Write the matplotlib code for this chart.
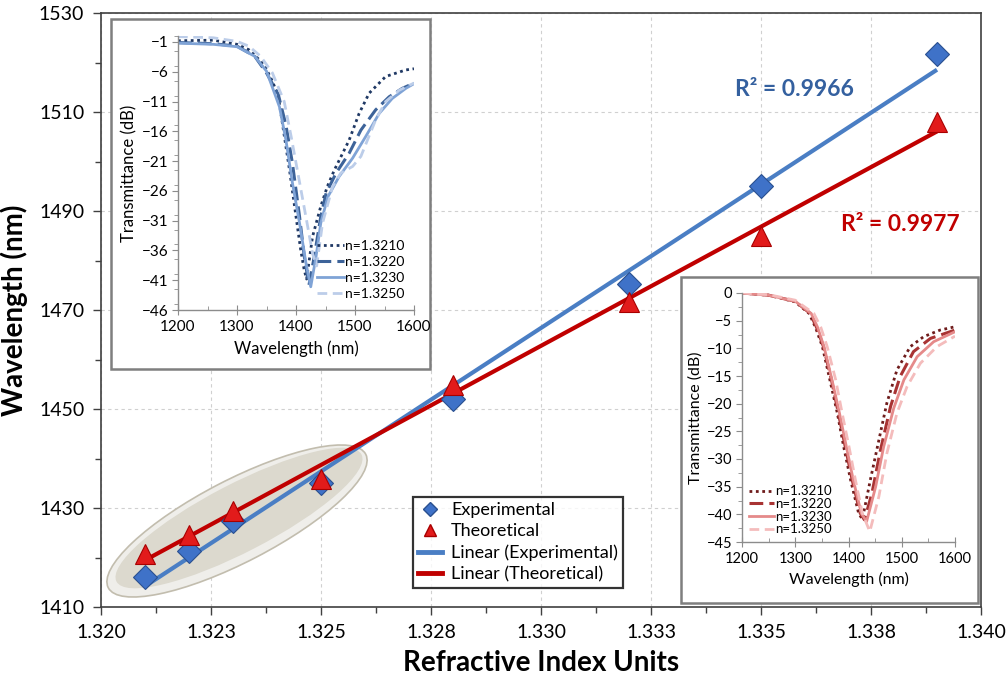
import numpy as np
import matplotlib
matplotlib.use("Agg")
import matplotlib.pyplot as plt
from matplotlib.patches import Ellipse, Rectangle
from matplotlib.lines import Line2D
from matplotlib.transforms import IdentityTransform
from matplotlib.ticker import MultipleLocator

plt.rcParams['font.family'] = ['Lato', 'DejaVu Sans']

# ---------------- main data ----------------
ri = [1.321, 1.322, 1.323, 1.325, 1.328, 1.332, 1.335, 1.339]
exp_wl = [1416.0, 1421.4, 1427.4, 1435.1, 1452.0, 1475.3, 1495.1, 1521.7]
theo_wl = [1420.8, 1424.6, 1429.4, 1435.8, 1454.8, 1471.6, 1484.9, 1508.0]
xtick_vals = [1.320, 1.3225, 1.325, 1.3275, 1.330, 1.3325, 1.335, 1.3375, 1.340]
xtick_labels = ['1.320', '1.323', '1.325', '1.328', '1.330', '1.333', '1.335', '1.338', '1.340']
ytick_vals = [1410, 1430, 1450, 1470, 1490, 1510, 1530]
r2_exp = "R\u00b2 = 0.9966"
r2_theo = "R\u00b2 = 0.9977"
legend_labels = ['Experimental', 'Theoretical', 'Linear (Experimental)', 'Linear (Theoretical)']

# ---------------- inset 1 (experimental spectra) ----------------
i1_labels = ['n=1.3210', 'n=1.3220', 'n=1.3230', 'n=1.3250']
i1_wl_a = [1200, 1260, 1300, 1320, 1340, 1350, 1360, 1370, 1377, 1389, 1400, 1408, 1414, 1418,
           1428, 1442, 1453, 1465, 1490, 1507, 1524, 1552, 1586, 1600]
i1_t_a = [-0.8, -0.7, -1.4, -2.3, -4.2, -5.6, -7.6, -10.1, -14.7, -22.5, -30.3, -35.9, -39.3, -40.8,
          -33.7, -28.6, -25.3, -22.5, -17.5, -13.0, -9.6, -6.8, -5.7, -5.5]
i1_wl_b = [1200, 1260, 1300, 1330, 1350, 1370, 1383, 1394, 1406, 1414, 1422, 1431, 1442, 1451,
           1468, 1490, 1510, 1535, 1558, 1580, 1600]
i1_t_b = [-1.1, -1.3, -1.7, -3.4, -6.2, -9.8, -15.0, -21.4, -30.3, -37.0, -41.8, -37.0, -30.3, -26.4,
          -23.0, -19.7, -15.8, -12.4, -10.2, -8.8, -7.9]
i1_wl_c = [1200, 1260, 1300, 1330, 1350, 1372, 1383, 1394, 1406, 1417, 1425, 1434, 1442, 1454,
           1473, 1496, 1518, 1541, 1563, 1586, 1600]
i1_t_c = [-1.2, -1.4, -1.8, -3.4, -5.9, -11.9, -17.5, -24.7, -31.4, -38.2, -42.1, -37.0, -31.4, -27.0,
          -23.6, -20.5, -16.9, -13.0, -10.5, -8.8, -8.0]
i1_wl_d = [1200, 1260, 1300, 1320, 1340, 1360, 1380, 1392, 1405, 1418, 1428, 1435, 1445, 1462,
           1476, 1496, 1510, 1521, 1535, 1552, 1575, 1600]
i1_t_d = [-0.1, -0.3, -0.9, -1.7, -3.4, -6.2, -11.0, -17.0, -24.0, -31.0, -36.5, -38.6, -31.4, -25.3,
          -23.0, -21.9, -20.2, -17.5, -14.1, -11.0, -9.1, -7.9]
i1_yticks = [-46, -41, -36, -31, -26, -21, -16, -11, -6, -1]

# ---------------- inset 2 (theoretical spectra) ----------------
i2_labels = ['n=1.3210', 'n=1.3220', 'n=1.3230', 'n=1.3250']
i2_wl_a = [1200, 1250, 1300, 1326, 1338, 1351, 1365, 1379, 1391, 1404, 1419, 1426, 1441, 1457,
           1472, 1491, 1516, 1541, 1572, 1600]
i2_t_a = [0, -0.4, -1.6, -3.7, -6.2, -9.7, -15.7, -21.7, -27.8, -33.8, -39.8, -40.9, -33.8, -26.6,
          -19.9, -13.9, -9.7, -7.9, -6.7, -6.1]
i2_wl_b = [1200, 1250, 1300, 1328, 1340, 1353, 1368, 1381, 1394, 1407, 1422, 1430, 1444, 1460,
           1479, 1497, 1522, 1554, 1600]
i2_t_b = [0, -0.4, -1.5, -3.7, -6.2, -9.7, -15.7, -21.7, -27.8, -33.8, -39.8, -41.0, -36.2, -28.4,
          -20.5, -15.1, -10.6, -8.2, -6.7]
i2_wl_c = [1200, 1250, 1300, 1330, 1342, 1354, 1369, 1383, 1396, 1409, 1424, 1434, 1451, 1466,
           1485, 1504, 1529, 1560, 1600]
i2_t_c = [0, -0.4, -1.5, -3.7, -6.2, -9.7, -15.7, -21.7, -27.8, -33.8, -39.8, -41.3, -35.0, -27.8,
          -20.8, -15.7, -11.5, -8.8, -7.0]
i2_wl_d = [1200, 1250, 1300, 1335, 1348, 1360, 1376, 1388, 1401, 1413, 1426, 1440, 1457, 1472,
           1491, 1510, 1535, 1566, 1600]
i2_t_d = [0, -0.3, -1.3, -3.7, -6.2, -9.7, -15.7, -21.7, -27.8, -33.8, -39.8, -43.1, -36.8, -29.0,
          -21.7, -16.9, -12.7, -9.7, -7.8]

W, H = 1008, 681
fig = plt.figure(figsize=(W / 100, H / 100), dpi=100)
fig.patch.set_facecolor('white')

def fr(x0, y0, x1, y1):
    return [x0 / W, 1 - y1 / H, (x1 - x0) / W, (y1 - y0) / H]

# ---------------- main axes ----------------
ax = fig.add_axes(fr(101, 13, 981, 607))
ax.set_xlim(1.320, 1.340)
ax.set_ylim(1410, 1530)

# ellipse highlight (pixel space)
ax.add_artist(Ellipse((237, H - 521), width=290, height=82, angle=27.4,
                      transform=IdentityTransform(), facecolor='#efeeea', edgecolor='#c2bdae',
                      linewidth=1.2, zorder=1))
ax.add_artist(Ellipse((239, H - 518), width=276, height=68, angle=27.4,
                      transform=IdentityTransform(), facecolor='#dcd9ce', edgecolor='none', zorder=1))

blue_line = '#4a7ec4'
red_line = '#c00000'
xs = np.array(ri)
pe = np.polyfit(xs, exp_wl, 1)
pt = np.polyfit(xs, theo_wl, 1)
xl = np.array([min(ri), max(ri)])
ax.plot(xl, np.polyval(pe, xl), color=blue_line, lw=3.0, zorder=3, solid_capstyle='butt')
ax.plot(xl, np.polyval(pt, xl), color=red_line, lw=3.0, zorder=3, solid_capstyle='butt')
ax.plot(ri, exp_wl, linestyle='none', marker='D', markersize=12.5, markerfacecolor='#3f72c8',
        markeredgecolor='#2a5090', markeredgewidth=0.8, zorder=4)
ax.plot(ri, theo_wl, linestyle='none', marker='^', markersize=15, markerfacecolor='#e21b1b',
        markeredgecolor='#a80000', markeredgewidth=0.8, zorder=4)

ax.set_xticks(xtick_vals)
ax.set_xticklabels(xtick_labels)
ax.set_yticks(ytick_vals)
ax.xaxis.set_minor_locator(MultipleLocator(0.00125))
ax.yaxis.set_minor_locator(MultipleLocator(10))
ax.tick_params(axis='both', which='major', direction='out', length=6, width=1, color='#404040',
               labelsize=14, pad=6)
ax.tick_params(axis='both', which='minor', direction='out', length=4, width=1, color='#404040')
ax.grid(True, which='major', linestyle=(0, (3, 3)), color='#d0d0d0', linewidth=0.8, zorder=0)
ax.set_axisbelow(True)
for s in ax.spines.values():
    s.set_color('#404040')
    s.set_linewidth(1.2)
ax.set_xlabel('Refractive Index Units', fontsize=20, fontweight='bold', labelpad=7)
ax.set_ylabel('Wavelength (nm)', fontsize=20, fontweight='bold', labelpad=8)

ax.text(1.33577, 1514.5, r2_exp, color='#34609f', fontsize=16.5, fontweight='bold',
        ha='center', va='center', zorder=5)
ax.text(1.33816, 1487.2, r2_theo, color='#c00000', fontsize=16.5, fontweight='bold',
        ha='center', va='center', zorder=5)

handles = [
    Line2D([], [], linestyle='none', marker='D', markersize=7, markerfacecolor='#3f72c8',
           markeredgecolor='#2a5090'),
    Line2D([], [], linestyle='none', marker='^', markersize=9, markerfacecolor='#e21b1b',
           markeredgecolor='#a80000'),
    Line2D([], [], color=blue_line, lw=3.5),
    Line2D([], [], color=red_line, lw=3.5),
]
leg = ax.legend(handles, legend_labels,
                loc='upper left', bbox_to_anchor=(413 / W, 1 - 497 / H),
                bbox_transform=fig.transFigure, fontsize=13, frameon=True, fancybox=False,
                borderpad=0.3, labelspacing=0.28, handlelength=1.3, handletextpad=0.5,
                borderaxespad=0)
leg.get_frame().set_edgecolor('black')
leg.get_frame().set_linewidth(1.6)
leg.set_zorder(6)

# ---------------- inset boxes ----------------
def inset_box(x0, y0, x1, y1):
    r = Rectangle((x0 / W, 1 - y1 / H), (x1 - x0) / W, (y1 - y0) / H, transform=fig.transFigure,
                  facecolor='white', edgecolor='#7f7f7f', linewidth=1.8, zorder=10)
    fig.patches.append(r)

inset_box(111, 19, 430, 369)
inset_box(681, 277, 978, 603)

def style_inset(a, tick_fs, lab_fs):
    a.set_xlim(1200, 1600)
    a.xaxis.set_major_locator(MultipleLocator(100))
    a.xaxis.set_minor_locator(MultipleLocator(50))
    a.spines['top'].set_visible(False)
    a.spines['right'].set_visible(False)
    for s in ['left', 'bottom']:
        a.spines[s].set_color('#8c8c8c')
        a.spines[s].set_linewidth(1.0)
    a.tick_params(axis='y', which='major', direction='out', length=4, color='#8c8c8c', labelsize=tick_fs, pad=3)
    a.tick_params(axis='y', which='minor', direction='out', length=3, color='#8c8c8c')
    a.tick_params(axis='x', which='major', direction='inout', length=7, color='#8c8c8c', labelsize=tick_fs, pad=4)
    a.tick_params(axis='x', which='minor', direction='in', length=3, color='#8c8c8c')
    a.set_xlabel('Wavelength (nm)', fontsize=lab_fs, labelpad=4)
    a.set_ylabel('Transmittance (dB)', fontsize=lab_fs, labelpad=3)

# inset 1
a1 = fig.add_axes(fr(178, 36, 414, 310))
a1.set_zorder(11)
a1.patch.set_alpha(0)
c1 = ['#1f3864', '#3d6399', '#7fa3d6', '#bccde9']
a1.plot(i1_wl_a, i1_t_a, color=c1[0], lw=2.0, linestyle=(0, (1, 1.3)), label=i1_labels[0])
a1.plot(i1_wl_b, i1_t_b, color=c1[1], lw=2.2, linestyle=(0, (4.5, 2)), label=i1_labels[1])
a1.plot(i1_wl_c, i1_t_c, color=c1[2], lw=2.0, linestyle='-', label=i1_labels[2])
a1.plot(i1_wl_d, i1_t_d, color=c1[3], lw=2.0, linestyle=(0, (3.5, 2)), label=i1_labels[3])
style_inset(a1, 11, 12)
a1.set_yticks(i1_yticks)
a1.yaxis.set_minor_locator(MultipleLocator(2.5))
a1.set_ylim(-46, 0)
a1.legend(loc='lower right', fontsize=10, frameon=False, handlelength=1.9,
          handletextpad=0.1, labelspacing=0.3, borderaxespad=0.5, borderpad=0.2)

# inset 2
a2 = fig.add_axes(fr(742, 293, 955, 542))
a2.set_zorder(11)
a2.patch.set_alpha(0)
c2 = ['#6e1b1b', '#a83333', '#e58a8a', '#f4bcbc']
a2.plot(i2_wl_a, i2_t_a, color=c2[0], lw=2.0, linestyle=(0, (1, 1.3)), label=i2_labels[0])
a2.plot(i2_wl_b, i2_t_b, color=c2[1], lw=2.2, linestyle=(0, (4.5, 2)), label=i2_labels[1])
a2.plot(i2_wl_c, i2_t_c, color=c2[2], lw=2.0, linestyle='-', label=i2_labels[2])
a2.plot(i2_wl_d, i2_t_d, color=c2[3], lw=2.0, linestyle=(0, (3.5, 2)), label=i2_labels[3])
style_inset(a2, 10.5, 11.5)
a2.yaxis.set_major_locator(MultipleLocator(5))
a2.yaxis.set_minor_locator(MultipleLocator(2.5))
a2.set_ylim(-45, 0)
a2.legend(loc='lower left', fontsize=9.5, frameon=False, handlelength=1.9,
          handletextpad=0.1, labelspacing=0.05, borderaxespad=0.3, borderpad=0.2)

fig.savefig('out.png', dpi=100)
